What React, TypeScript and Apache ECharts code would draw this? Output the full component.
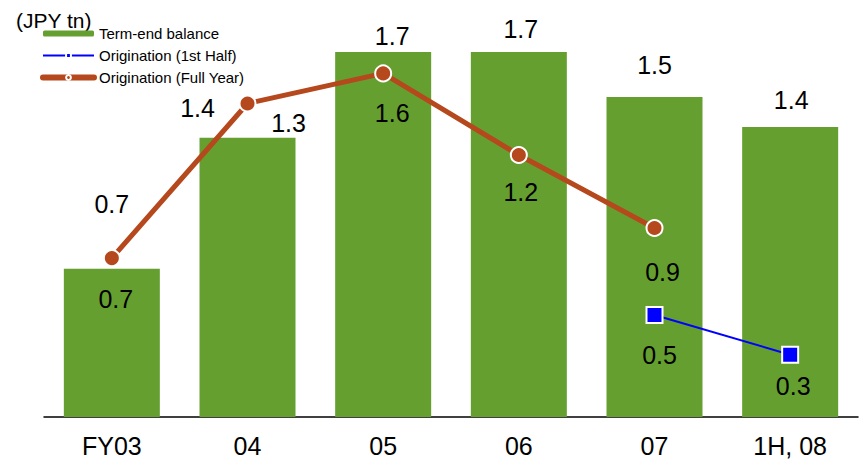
import React, { useEffect, useRef } from "react";
import * as echarts from "echarts";

const categories = ["FY03", "04", "05", "06", "07", "1H, 08"];
const balance = [0.69, 1.3, 1.7, 1.7, 1.49, 1.35];
const balanceLabels = ["0.7", "1.3", "1.7", "1.7", "1.5", "1.4"];
const fullYear = [0.74, 1.46, 1.6, 1.22, 0.88, null];
const fullYearLabels = ["0.7", "1.4", "1.6", "1.2", "0.9", ""];
const firstHalf = [null, null, null, null, 0.475, 0.29];
const firstHalfLabels = ["", "", "", "", "0.5", "0.3"];

const GREEN = "#659F2F";
const ORANGE = "#B5481C";
const BLUE = "#0000FF";
const FONT = "Liberation Sans";

// label offsets (relative placement in px)
const balanceOffsets = [[4, 30], [41, -15], [9, -16], [2, -23], [0, -32], [1, -27]];
const fullYearOffsets = [[0, -54], [-50, 5], [9, 40], [2, 37], [8, 44], [0, 0]];
const firstHalfOffsets = [[0, 0], [0, 0], [0, 0], [0, 0], [5, 40], [3, 31]];

export default function App() {
  const ref = useRef<HTMLDivElement>(null);
  useEffect(() => {
    if (!ref.current) return;
    const chart = echarts.init(ref.current, null, { renderer: "svg" });
    const labelStyle = { fontFamily: FONT, fontSize: 25, color: "#000" };
    chart.setOption({
      animation: false,
      backgroundColor: "#fff",
      textStyle: { fontFamily: FONT },
      graphic: [
        {
          type: "text",
          left: 16,
          top: 10,
          style: { text: "(JPY tn)", fontFamily: FONT, fontSize: 21, fill: "#000" },
        },
      ],
      legend: {
        orient: "vertical",
        left: 40,
        top: 26,
        padding: 0,
        itemWidth: 51,
        itemHeight: 6,
        itemGap: 7,
        textStyle: { fontFamily: FONT, fontSize: 15, color: "#000", lineHeight: 15 },
        data: [
          { name: "Term-end balance" },
          { name: "Origination (1st Half)", lineStyle: { width: 2 } },
          { name: "Origination (Full Year)", lineStyle: { width: 6, cap: "round" } },
        ],
      },
      grid: { left: 44, right: 8, top: 9, bottom: 44 },
      xAxis: {
        type: "category",
        data: categories,
        axisLine: { lineStyle: { color: "#000", width: 1.5 } },
        axisTick: { show: false },
        axisLabel: { fontFamily: FONT, fontSize: 25, color: "#000", margin: 16 },
      },
      yAxis: {
        type: "value",
        min: 0,
        max: 1.9,
        show: false,
        splitLine: { show: false },
      },
      series: [
        {
          name: "Term-end balance",
          type: "bar",
          barWidth: 96,
          itemStyle: { color: GREEN },
          data: balance.map((v, i) => ({
            value: v,
            label: {
              show: true,
              position: "top",
              distance: 0,
              verticalAlign: "middle",
              offset: balanceOffsets[i],
              formatter: () => balanceLabels[i],
              ...labelStyle,
            },
          })),
        },
        {
          name: "Origination (1st Half)",
          type: "line",
          symbol: "rect",
          symbolSize: 16,
          itemStyle: { color: BLUE, borderColor: "#fff", borderWidth: 2 },
          lineStyle: { color: BLUE, width: 2 },
          z: 4,
          data: firstHalf.map((v, i) => ({
            value: v,
            label: {
              show: v !== null,
              position: "inside",
              offset: firstHalfOffsets[i],
              formatter: () => firstHalfLabels[i],
              ...labelStyle,
            },
          })),
        },
        {
          name: "Origination (Full Year)",
          type: "line",
          symbol: "circle",
          symbolSize: 16,
          itemStyle: { color: ORANGE, borderColor: "#fff", borderWidth: 2 },
          lineStyle: { color: ORANGE, width: 5 },
          z: 5,
          data: fullYear.map((v, i) => ({
            value: v,
            label: {
              show: v !== null,
              position: "inside",
              offset: fullYearOffsets[i],
              formatter: () => fullYearLabels[i],
              ...labelStyle,
            },
          })),
        },
      ],
    });
    return () => chart.dispose();
  }, []);
  return <div ref={ref} style={{ width: 866, height: 461, position: "absolute", left: 0, top: 0 }} />;
}
